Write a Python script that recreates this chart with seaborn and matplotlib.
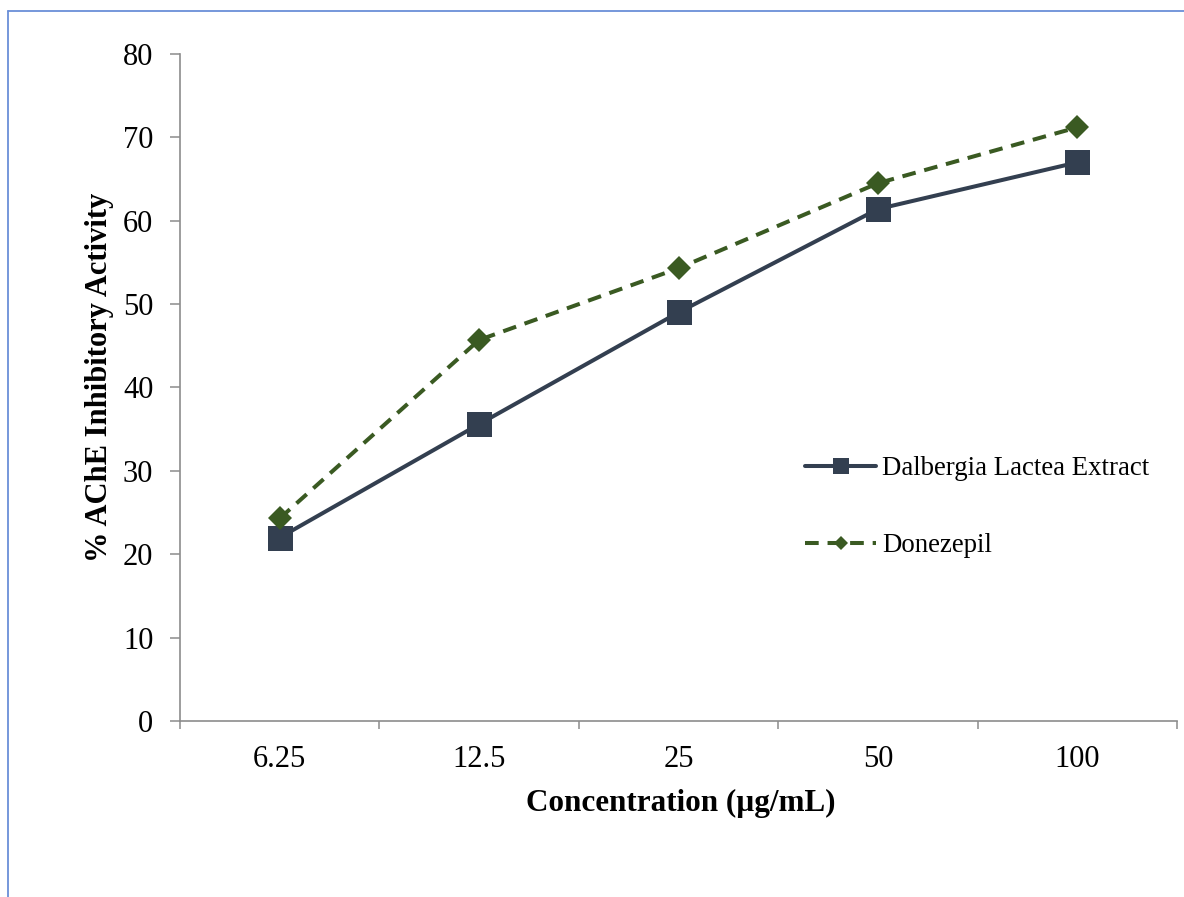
import matplotlib
matplotlib.use("Agg")
import matplotlib.pyplot as plt
from matplotlib.lines import Line2D
from matplotlib.ticker import FixedLocator
import numpy as np
import pandas as pd
import seaborn as sns

# Concentrations tested (µg/mL) and % AChE inhibition
concentrations = ["6.25", "12.5", "25", "50", "100"]
dalbergia = [22.0, 35.6, 49.0, 61.4, 67.0]
donezepil = [24.3, 45.7, 54.3, 64.5, 71.2]
series_names = ["Dalbergia Lactea Extract", "Donezepil"]
y_ticks = [0, 10, 20, 30, 40, 50, 60, 70, 80]

df = pd.DataFrame({
    "Concentration": concentrations * 2,
    "Inhibition": dalbergia + donezepil,
    "Sample": [series_names[0]] * len(concentrations) + [series_names[1]] * len(concentrations),
})

sns.set_theme(style="white")
plt.rcParams["font.family"] = ["Liberation Serif", "DejaVu Serif"]

W, H, DPI = 1184, 897, 100
fig = plt.figure(figsize=(W / DPI, H / DPI), dpi=DPI)
ax = fig.add_axes([180 / W, 1 - 721 / H, 997 / W, 667 / H])

colors = {"Dalbergia Lactea Extract": "#333F50", "Donezepil": "#3A5A22"}
markers = {"Dalbergia Lactea Extract": "s", "Donezepil": "D"}
sizes = {"Dalbergia Lactea Extract": 18, "Donezepil": 12}
legend_sizes = {"Dalbergia Lactea Extract": 12.2, "Donezepil": 7}
dash_pattern = [3.4, 2.2]

for name in series_names:
    sub = df[df["Sample"] == name]
    sns.lineplot(
        data=sub, x="Concentration", y="Inhibition", ax=ax,
        color=colors[name], marker=markers[name], markersize=sizes[name],
        markeredgewidth=0, linewidth=2.9, sort=False, label=name,
    )
# dashed line for the reference drug
ax.lines[1].set_dashes(dash_pattern)

ax.set_xlim(-0.5, len(concentrations) - 0.5)
ax.set_ylim(0, 80)
ax.set_yticks(y_ticks)
ax.set_xticks(range(len(concentrations)))
ax.set_xticklabels(concentrations)
ax.xaxis.set_minor_locator(FixedLocator(np.arange(-0.5, len(concentrations), 1.0)))

for s in ["top", "right"]:
    ax.spines[s].set_visible(False)
for s in ["left", "bottom"]:
    ax.spines[s].set_color("#8C8C8C")
    ax.spines[s].set_linewidth(1.2)

ax.tick_params(axis="y", which="major", direction="out", length=7.2, width=1.1,
               color="#8C8C8C", labelsize=22, pad=12, left=True)
ax.tick_params(axis="x", which="major", length=0, labelsize=22, pad=17.5)
ax.tick_params(axis="x", which="minor", direction="out", length=5.8, width=1.1,
               color="#8C8C8C", bottom=True)
for lab in ax.get_xticklabels() + ax.get_yticklabels():
    lab.set_color("black")

ax.set_xlabel("")
ax.set_ylabel("")
fig.text(681 / W, 1 - 803 / H, "Concentration (µg/mL)", ha="center", va="center",
         fontsize=22.4, fontweight="bold", color="black")
fig.text(99 / W, 1 - 377 / H, "% AChE Inhibitory Activity", ha="center", va="center",
         rotation=90, fontsize=22, fontweight="bold", color="black")

handles, labels = ax.get_legend_handles_labels()
leg = ax.legend(handles, labels, loc="upper left",
                bbox_to_anchor=(805 / W, 1 - 456 / H), bbox_transform=fig.transFigure,
                frameon=False, fontsize=19.3, handlelength=2.65, handletextpad=0.22,
                labelspacing=1.95, borderpad=0, borderaxespad=0)
for t in leg.get_texts():
    t.set_color("black")
for h, name in zip(leg.legend_handles, labels):
    h.set_markersize(legend_sizes[name])
    h.set_linewidth(2.9)
    if name == "Donezepil":
        h.set_dashes(dash_pattern)

# thin blue frame around the chart area
fig.add_artist(Line2D([8 / W, 1.0], [1 - 11 / H, 1 - 11 / H], transform=fig.transFigure,
                      color="#6A8FD8", linewidth=1.3))
fig.add_artist(Line2D([8 / W, 8 / W], [0.0, 1 - 11 / H], transform=fig.transFigure,
                      color="#6A8FD8", linewidth=1.3))

fig.savefig("out.png", dpi=DPI)
